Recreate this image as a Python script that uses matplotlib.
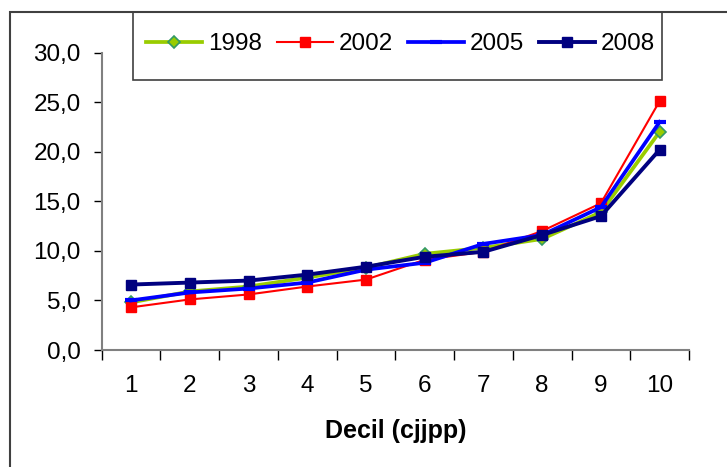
import numpy as np
import matplotlib
matplotlib.use('Agg')
import matplotlib.pyplot as plt
from matplotlib.patches import Rectangle

plt.rcParams['font.family'] = ['Liberation Sans', 'DejaVu Sans']

# datos
deciles = [1, 2, 3, 4, 5, 6, 7, 8, 9, 10]
d1998 = [4.8, 5.9, 6.4, 7.3, 8.3, 9.7, 10.3, 11.2, 13.9, 22.0]
d2002 = [4.3, 5.1, 5.6, 6.4, 7.1, 9.1, 9.9, 12.0, 14.8, 25.1]
d2005 = [5.0, 5.8, 6.2, 6.8, 8.1, 8.8, 10.7, 11.6, 14.4, 23.0]
d2008 = [6.6, 6.8, 7.0, 7.6, 8.4, 9.4, 9.9, 11.6, 13.5, 20.2]
yticks = [0, 5, 10, 15, 20, 25, 30]

W, H = 727, 467
fig = plt.figure(figsize=(W / 100, H / 100), dpi=100)
ax = fig.add_axes([101.7 / W, 1 - 350 / H, (689 - 101.7) / W, (350 - 52.5) / H])

ax.plot(deciles, d1998, color='#99CC00', lw=2.7, marker='D', ms=6.5,
        mfc='#99CC00', mec='#339966', mew=1.2, label='1998')
ax.plot(deciles, d2002, color='#FF0000', lw=1.5, marker='s', ms=7,
        mfc='#FF0000', mec='#FF0000', label='2002')
ax.plot(deciles, d2005, color='#0000FF', lw=2.7, marker='_', ms=9,
        mew=3, mec='#0000FF', label='2005')
ax.plot(deciles, d2008, color='#000080', lw=2.8, marker='s', ms=7.5,
        mfc='#000080', mec='#000080', label='2008')

ax.set_xlim(0.5, 10.5)
ax.set_ylim(0, 30)
ax.set_yticks(yticks)
ax.set_yticklabels([f'{v:.1f}'.replace('.', ',') for v in yticks])
ax.set_xticks(deciles)
ax.set_xticks(np.arange(0.5, 11, 1), minor=True)
ax.tick_params(axis='x', which='major', length=0, pad=18, labelsize=17.5)
ax.tick_params(axis='x', which='minor', length=7, width=1, color='black', direction='out')
ax.tick_params(axis='y', length=6, width=1, color='black', direction='out', pad=9, labelsize=17.5)

for s in ['top', 'right']:
    ax.spines[s].set_visible(False)
for s in ['left', 'bottom']:
    ax.spines[s].set_color('#808080')
    ax.spines[s].set_linewidth(1.5)

ax.set_xlabel('Decil (cjjpp)', fontsize=18, fontweight='bold', labelpad=16)

# marco exterior del grafico (cortado a la derecha y abajo)
fig.patches.append(Rectangle((10 / W, -0.1), 1.2, 1 - 11.7 / H + 0.1,
                             transform=fig.transFigure, fill=False,
                             ec='#404040', lw=1.5))

# caja de la leyenda
fig.patches.append(Rectangle((133 / W, 1 - 80 / H), (662 - 133) / W, (80 - 11.7) / H,
                             transform=fig.transFigure, fill=False,
                             ec='#404040', lw=1.2))
fig.legend(loc='center', bbox_to_anchor=(400.5 / W, 1 - 44 / H),
           ncol=4, frameon=False, fontsize=17.5, numpoints=1,
           handlelength=2.3, handletextpad=0.25, columnspacing=0.62,
           borderaxespad=0, borderpad=0)

plt.savefig('out.png', dpi=100)
